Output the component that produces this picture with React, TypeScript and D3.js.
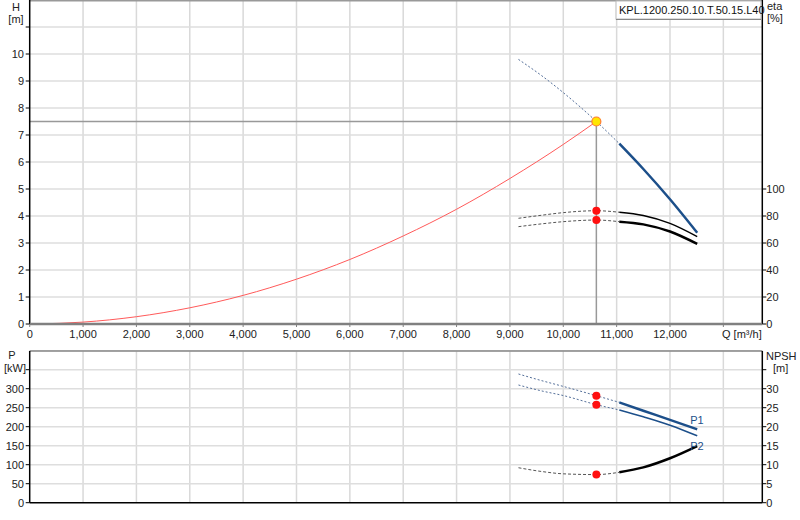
import React, { useEffect } from 'react';
import * as d3 from 'd3';

// Pump curve data (Q in m³/h)
const qhDashQ = [9160, 9600, 10000, 10620, 11050];
const qhDashH = [9.8, 9.19, 8.57, 7.5, 6.68];
const qhQ = [11050, 11500, 12000, 12510];
const qhH = [6.68, 5.74, 4.62, 3.38];

const sysQ = [100, 1000, 2000, 3000, 4000, 5000, 6000, 7000, 8000, 9000, 10000, 10620];
const sysH = [0, 0.07, 0.27, 0.6, 1.06, 1.66, 2.39, 3.26, 4.25, 5.39, 6.65, 7.5];

const etaQDash = [9160, 9600, 10000, 10620, 11050];
const eta1Dash = [78.3, 80.6, 82.5, 83.9, 82.8];
const eta2Dash = [72.1, 74.2, 75.8, 77.0, 75.8];
const etaQ = [11050, 11500, 12000, 12510];
const eta1 = [82.8, 80.4, 74.5, 64.7];
const eta2 = [75.8, 73.8, 68.5, 59.3];

const pQDash = [9160, 9600, 10000, 10620, 11050];
const p1Dash = [338.7, 321, 306, 281.6, 264];
const p2Dash = [309.7, 294, 282, 258, 244];
const pQ = [11050, 11500, 12000, 12510];
const p1 = [264, 242, 218, 193];
const p2 = [244, 226, 204, 176];

const npshDash = [9.2, 8.2, 7.6, 7.4, 8.0];
const npsh = [8.0, 9.3, 11.7, 14.9];

const opQ = 10620;
const opH = 7.5;
const opEta = [83.9, 77.0];
const opP = [281.6, 258];
const opNpsh = 7.4;

const qTicks = [0, 1000, 2000, 3000, 4000, 5000, 6000, 7000, 8000, 9000, 10000, 11000, 12000];
const hTicks = [0, 1, 2, 3, 4, 5, 6, 7, 8, 9, 10];
const etaTicks = [0, 20, 40, 60, 80, 100];
const pTicks = [0, 50, 100, 150, 200, 250, 300];
const npshTicks = [0, 5, 10, 15, 20, 25, 30];

const title = 'KPL.1200.250.10.T.50.15.L40';

const FONT = '"Liberation Sans", Arial, sans-serif';
const BLUE = '#1c4f8a';
const DASH_BLUE = '#55709a';

export default function App() {
  useEffect(() => {
    document.body.style.margin = '0';
  }, []);

  const left = 29.7;
  const right = 762.3;
  const x = d3.scaleLinear().domain([0, 13730]).range([left, right]);
  const yH = d3.scaleLinear().domain([0, 12]).range([324, 0]);
  const yEta = d3.scaleLinear().domain([0, 240]).range([324, 0]);
  const yP = d3.scaleLinear().domain([0, 400]).range([502.7, 350.7]);
  const yN = d3.scaleLinear().domain([0, 40]).range([502.7, 350.7]);

  const mk = (ys: d3.ScaleLinear<number, number>, qs: number[], vs: number[]) =>
    d3.line<number>()
      .x((_d, i) => x(qs[i]))
      .y((d) => ys(d))
      .curve(d3.curveMonotoneX)(vs) || '';

  const vGrid = d3.range(1000, 14000, 1000);
  const hGridTop = d3.range(1, 13);
  const hGridBot = d3.range(50, 401, 50);

  const tickText = { fontFamily: FONT, fontSize: 11, fill: '#222' } as const;

  return (
    <svg width={800} height={520} style={{ display: 'block' }}>
      <rect width={800} height={520} fill="#fff" />

      {/* ---------- top panel ---------- */}
      {vGrid.map((q) => (
        <line key={'vt' + q} x1={x(q)} x2={x(q)} y1={0} y2={324} stroke="#d9d9d9" strokeWidth={1.5} />
      ))}
      {hGridTop.map((h) => (
        <line key={'ht' + h} x1={left} x2={right} y1={yH(h)} y2={yH(h)} stroke="#dedede" strokeWidth={1.5} />
      ))}
      <line x1={left} x2={right} y1={0.75} y2={0.75} stroke="#999" strokeWidth={1.5} />

      {/* operating point crosshair */}
      <line x1={left} x2={x(opQ)} y1={yH(opH)} y2={yH(opH)} stroke="#999" strokeWidth={1.5} />
      <line x1={x(opQ)} x2={x(opQ)} y1={yH(opH)} y2={324} stroke="#999" strokeWidth={1.5} />

      {/* system curve */}
      <path d={mk(yH, sysQ, sysH)} fill="none" stroke="#ff5a5a" strokeWidth={1} />

      {/* QH */}
      <path d={mk(yH, qhDashQ, qhDashH)} fill="none" stroke={DASH_BLUE} strokeWidth={1} strokeDasharray="2,2" />
      <path d={mk(yH, qhQ, qhH)} fill="none" stroke={BLUE} strokeWidth={2.5} />

      {/* eta */}
      <path d={mk(yEta, etaQDash, eta1Dash)} fill="none" stroke="#555" strokeWidth={1} strokeDasharray="3,2" />
      <path d={mk(yEta, etaQDash, eta2Dash)} fill="none" stroke="#555" strokeWidth={1} strokeDasharray="3,2" />
      <path d={mk(yEta, etaQ, eta1)} fill="none" stroke="#000" strokeWidth={1.5} />
      <path d={mk(yEta, etaQ, eta2)} fill="none" stroke="#000" strokeWidth={2.5} />
      {opEta.map((e, i) => (
        <circle key={'oe' + i} cx={x(opQ)} cy={yEta(e)} r={4} fill="#ff1010" />
      ))}
      <circle cx={x(opQ)} cy={yH(opH)} r={4.5} fill="#ffe600" stroke="#ff7a30" strokeWidth={1.2} />

      {/* axes */}
      <line x1={left} x2={left} y1={0} y2={324} stroke="#000" strokeWidth={1.5} />
      <line x1={right} x2={right} y1={0} y2={324} stroke="#000" strokeWidth={1.5} />
      <line x1={left} x2={right} y1={324} y2={324} stroke="#808080" strokeWidth={2.5} />
      {[...hTicks, 11].map((h) => (
        <line key={'lt' + h} x1={left - 4} x2={left} y1={yH(h)} y2={yH(h)} stroke="#000" />
      ))}
      {hTicks.map((h) => (
        <text key={'lh' + h} x={24} y={yH(h) + 4} textAnchor="end" {...tickText}>{h}</text>
      ))}
      {etaTicks.map((e) => (
        <g key={'re' + e}>
          <line x1={right} x2={right + 4} y1={yEta(e)} y2={yEta(e)} stroke="#000" />
          <text x={right + 4} y={yEta(e) + 4} {...tickText}>{e}</text>
        </g>
      ))}
      {[...qTicks, 13000].map((q) => (
        <line key={'bt' + q} x1={x(q)} x2={x(q)} y1={324} y2={327} stroke="#808080" />
      ))}
      {qTicks.map((q) => (
        <text key={'bq' + q} x={x(q)} y={338} textAnchor="middle" {...tickText}>{d3.format(',')(q)}</text>
      ))}
      <text x={722} y={338} {...tickText}>Q [m³/h]</text>

      <text x={16} y={11} textAnchor="middle" {...tickText}>H</text>
      <text x={16} y={23} textAnchor="middle" {...tickText}>[m]</text>
      <text x={767} y={10} {...tickText}>eta</text>
      <text x={767} y={22} {...tickText}>[%]</text>

      {/* title box */}
      <rect x={616} y={1} width={145} height={18} fill="#fff" stroke="#bbb" />
      <line x1={616} x2={761} y1={19.5} y2={19.5} stroke="#888" />
      <text x={619} y={14} {...tickText} fill="#111">{title}</text>

      {/* ---------- bottom panel ---------- */}
      {vGrid.map((q) => (
        <line key={'vb' + q} x1={x(q)} x2={x(q)} y1={350.7} y2={502.7} stroke="#d9d9d9" strokeWidth={1.5} />
      ))}
      {hGridBot.map((p) => (
        <line key={'hb' + p} x1={left} x2={right} y1={yP(p)} y2={yP(p)} stroke="#dedede" strokeWidth={1.5} />
      ))}
      <line x1={left} x2={right} y1={351} y2={351} stroke="#888" strokeWidth={1.5} />

      <path d={mk(yP, pQDash, p1Dash)} fill="none" stroke={DASH_BLUE} strokeWidth={1} strokeDasharray="2,2" />
      <path d={mk(yP, pQDash, p2Dash)} fill="none" stroke={DASH_BLUE} strokeWidth={1} strokeDasharray="2,2" />
      <path d={mk(yP, pQ, p1)} fill="none" stroke={BLUE} strokeWidth={2.5} />
      <path d={mk(yP, pQ, p2)} fill="none" stroke={BLUE} strokeWidth={1.5} />
      <path d={mk(yN, pQDash, npshDash)} fill="none" stroke="#555" strokeWidth={1} strokeDasharray="3,2" />
      <path d={mk(yN, pQ, npsh)} fill="none" stroke="#000" strokeWidth={2.5} />
      {opP.map((p, i) => (
        <circle key={'op' + i} cx={x(opQ)} cy={yP(p)} r={4} fill="#ff1010" />
      ))}
      <circle cx={x(opQ)} cy={yN(opNpsh)} r={4} fill="#ff1010" />

      <text x={x(12510) - 7} y={yP(p1[p1.length - 1]) - 5} fontFamily={FONT} fontSize={11} fill={BLUE}>P1</text>
      <text x={x(12510) - 7} y={yP(p2[p2.length - 1]) + 14} fontFamily={FONT} fontSize={11} fill={BLUE}>P2</text>

      <line x1={left} x2={left} y1={351} y2={502.7} stroke="#000" strokeWidth={1.5} />
      <line x1={right} x2={right} y1={351} y2={502.7} stroke="#000" strokeWidth={1.5} />
      <line x1={left} x2={right} y1={502.7} y2={502.7} stroke="#000" strokeWidth={1.5} />
      {[...pTicks, 350].map((p) => (
        <line key={'lp' + p} x1={left - 4} x2={left} y1={yP(p)} y2={yP(p)} stroke="#000" />
      ))}
      {pTicks.map((p) => (
        <text key={'tp' + p} x={24} y={yP(p) + 4} textAnchor="end" {...tickText}>{p}</text>
      ))}
      {[...npshTicks, 35].map((n) => (
        <line key={'rn' + n} x1={right} x2={right + 4} y1={yN(n)} y2={yN(n)} stroke="#000" />
      ))}
      {npshTicks.map((n) => (
        <text key={'tn' + n} x={right + 4} y={yN(n) + 4} {...tickText}>{n}</text>
      ))}
      <text x={12} y={359} textAnchor="middle" {...tickText}>P</text>
      <text x={15} y={372} textAnchor="middle" {...tickText}>[kW]</text>
      <text x={766} y={360} {...tickText}>NPSH</text>
      <text x={773} y={372} {...tickText}>[m]</text>
    </svg>
  );
}
